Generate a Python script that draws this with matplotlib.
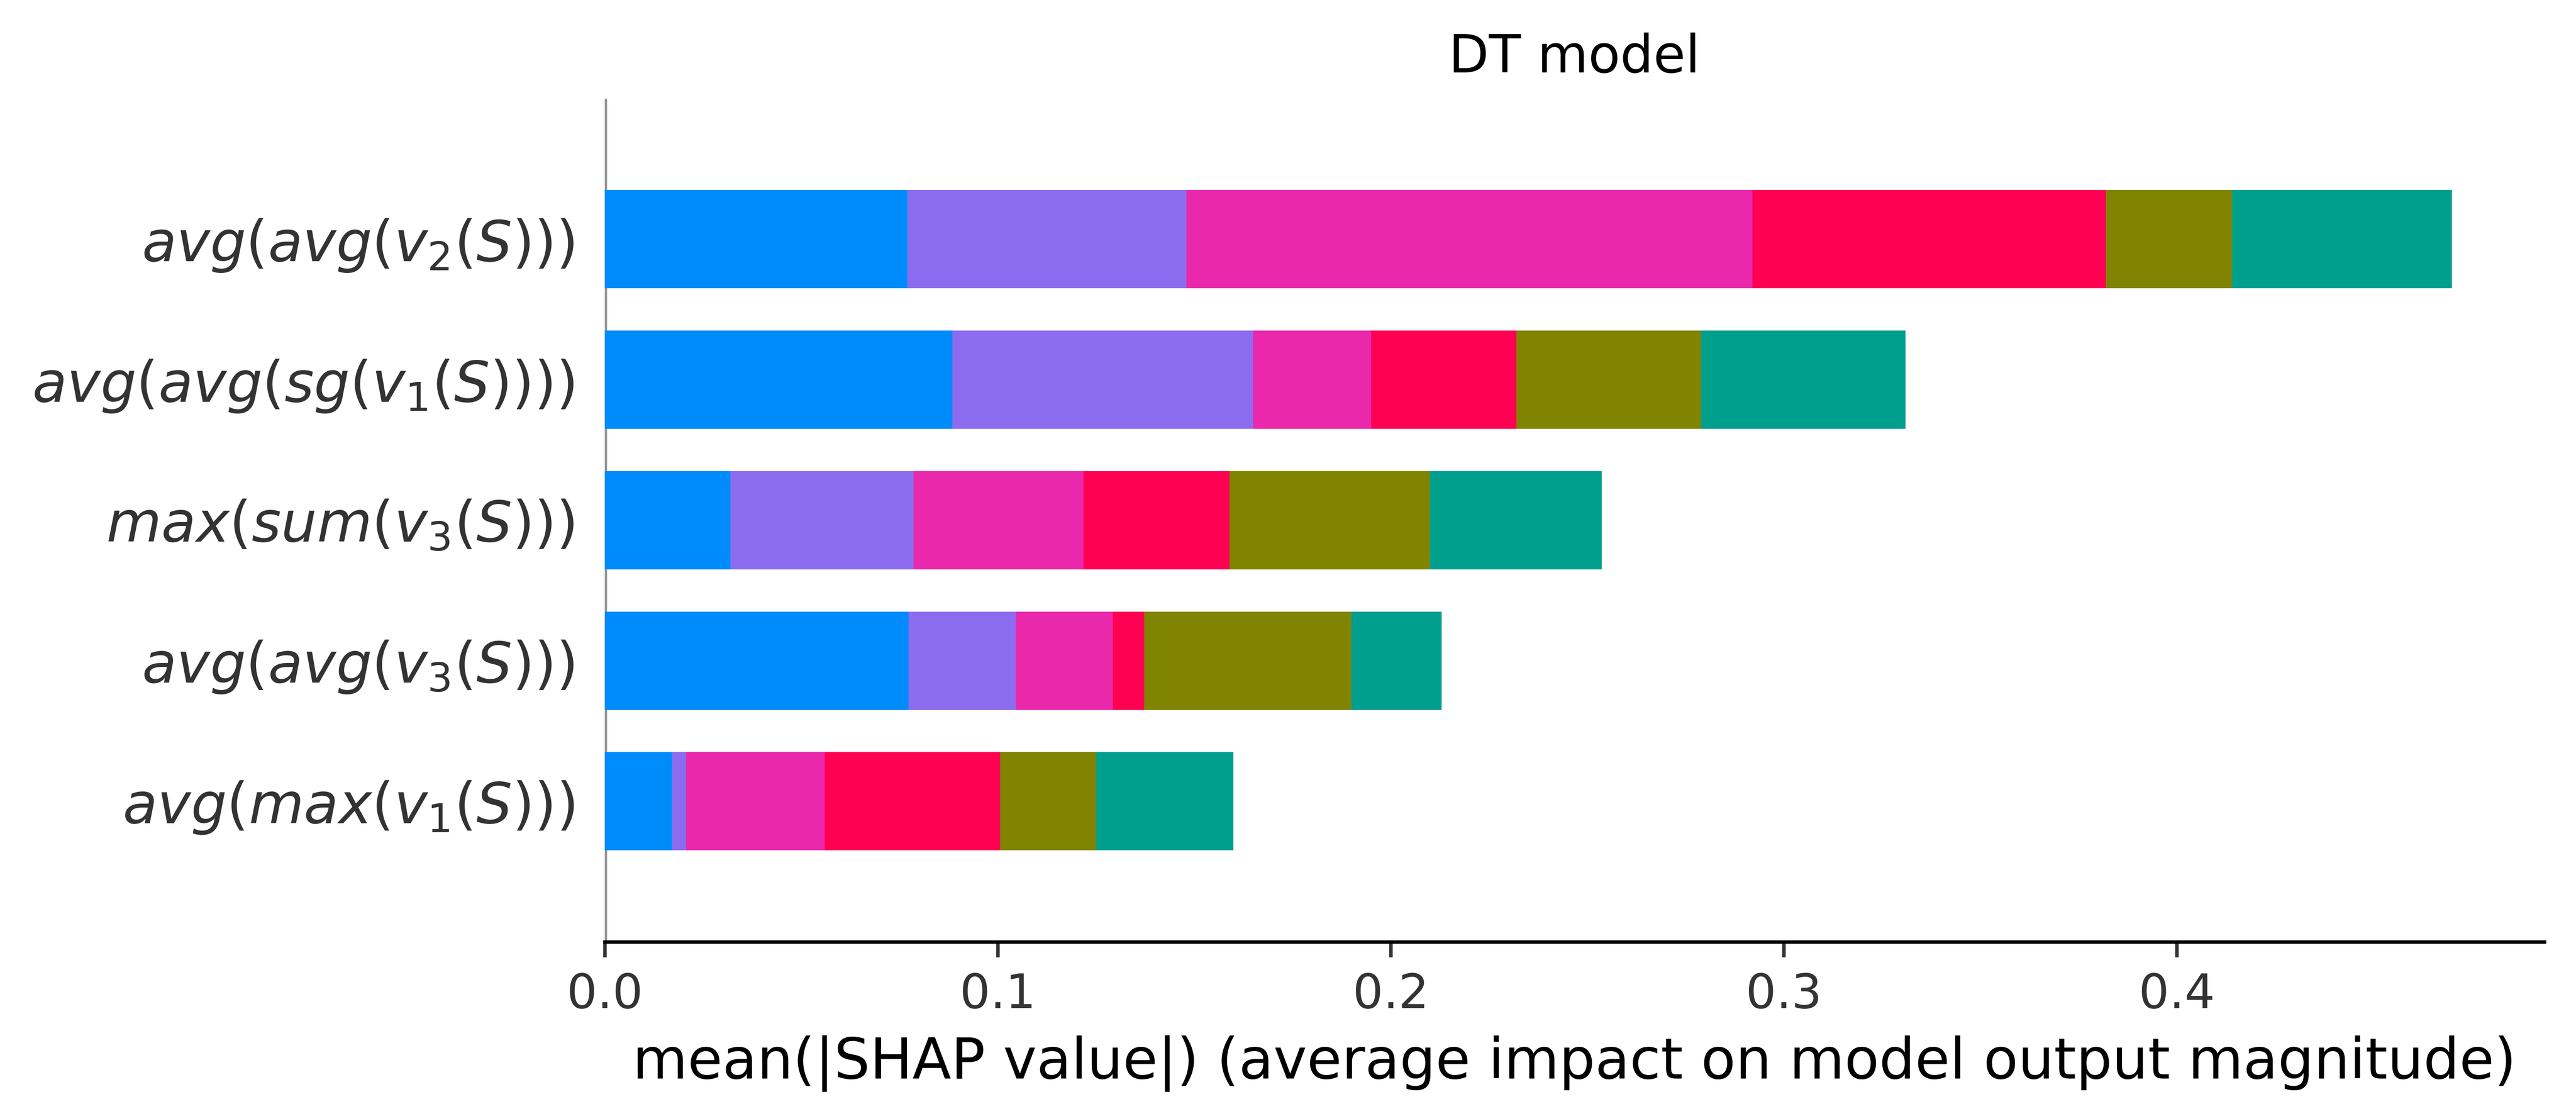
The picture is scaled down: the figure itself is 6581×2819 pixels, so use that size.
import matplotlib
matplotlib.use("Agg")
import matplotlib.pyplot as plt
import numpy as np

# features, top to bottom as shown
features = [r"$avg(avg(v_2(S)))$",
            r"$avg(avg(sg(v_1(S))))$",
            r"$max(sum(v_3(S)))$",
            r"$avg(avg(v_3(S)))$",
            r"$avg(max(v_1(S)))$"]

# mean |SHAP| per class (one list per class, same order as features)
class_0 = [0.077, 0.0885, 0.032, 0.0773, 0.0172]
class_1 = [0.071, 0.0765, 0.0466, 0.0273, 0.0035]
class_2 = [0.144, 0.030, 0.0432, 0.0247, 0.0353]
class_3 = [0.090, 0.037, 0.0372, 0.008, 0.0446]
class_4 = [0.032, 0.047, 0.051, 0.0527, 0.0244]
class_5 = [0.056, 0.052, 0.0437, 0.023, 0.035]

class_vals = [class_0, class_1, class_2, class_3, class_4, class_5]
class_colors = ["#008bfb", "#8b6cef", "#ea28ab", "#ff0052", "#808400", "#009f8d"]

axis_color = "#333333"

fig = plt.figure(figsize=(6582 / 800, 2819 / 800), dpi=800)
ax = fig.add_axes([0.2347, 0.147, 0.9875 - 0.2347, 0.9106 - 0.147])

y_pos = np.arange(len(features))[::-1]
left = np.zeros(len(features))
for vals, col in zip(class_vals, class_colors):
    vals = np.array(vals)
    ax.barh(y_pos, vals, 0.7, left=left, align="center", color=col)
    left += vals

ax.axvline(0, color="#999999", zorder=-1, linewidth=1)

ax.xaxis.set_ticks_position("bottom")
ax.yaxis.set_ticks_position("none")
ax.spines["right"].set_visible(False)
ax.spines["top"].set_visible(False)
ax.spines["left"].set_visible(False)
ax.tick_params(color=axis_color, labelcolor=axis_color)
ax.set_yticks(y_pos)
ax.set_yticklabels(features, fontsize=13)
ax.tick_params("x", labelsize=11)
ax.set_ylim(-1, len(features))
ax.set_xlabel("mean(|SHAP value|) (average impact on model output magnitude)", fontsize=13)
ax.set_title("DT model")

fig.savefig("out.png", dpi=800)
